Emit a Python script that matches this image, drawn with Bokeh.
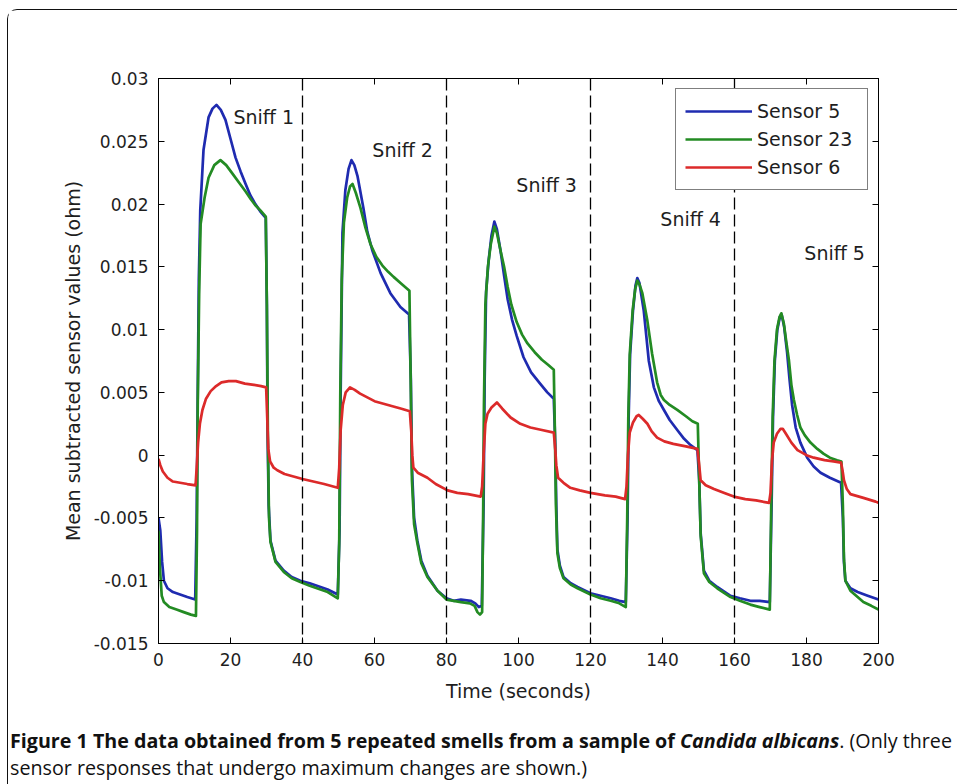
from bokeh.plotting import figure
from bokeh.models import (Range1d, FixedTicker, LinearAxis, Span, Legend, LegendItem,
                          CustomJSTickFormatter, Div, ColumnDataSource)
from bokeh.layouts import column
from bokeh.embed import file_html
from bokeh.resources import INLINE
from bokeh.core.properties import value

# ---------------- data ----------------
t_s5 = [0, 0.5, 1.0, 1.5, 2.5, 4, 6, 8, 10.2,
        10.6, 10.9, 11.2, 11.6, 12.5, 13.9, 15, 16.1, 17.3, 18.6, 20, 21.4, 22.8, 24.2, 25.5, 26.9, 28.3, 29.8,
        30.1, 30.3, 30.6, 31.1, 32.5, 34.8, 37, 39.4, 42, 44, 47, 49.8,
        50.3, 50.6, 51.1, 51.9, 52.8, 53.6, 54.4, 55.3, 56.9, 58, 59.4, 61.7, 64.4, 67.2, 69.6,
        70.1, 70.4, 71, 71.9, 73, 74.7, 77.5, 80, 82, 84, 86.7, 88, 89, 89.8,
        90.3, 90.6, 91, 91.7, 92.5, 93.3, 94, 95, 96, 97, 98.2, 99.5, 101.4, 103.5, 106, 108, 109.8,
        110.2, 110.5, 110.8, 111.5, 112.5, 114.5, 116.4, 120, 122.8, 125.6, 128, 129.8,
        130.3, 130.6, 131, 131.8, 132.5, 133, 133.6, 134.8, 135.5, 136.2, 137.6, 139, 140.4, 142, 144.1, 146, 147.8, 149.7,
        150.2, 150.6, 151.5, 153, 155.2, 158.9, 161.5, 164.4, 167, 169.8,
        170.3, 170.7, 171.2, 171.9, 172.6, 173.1, 173.8, 174.6, 175.3, 176, 177, 178.3, 180.2, 182, 183.9, 186.5, 189.6,
        190.1, 190.4, 190.8, 192.2, 194.2, 197, 200]
v_s5 = [-0.0050, -0.0060, -0.0085, -0.0100, -0.0106, -0.0109, -0.0111, -0.0113, -0.0115,
        -0.0050, 0.0050, 0.0140, 0.0195, 0.0243, 0.0269, 0.0276, 0.0279, 0.0275, 0.0267, 0.0252, 0.0237, 0.0226, 0.0216, 0.0207, 0.0200, 0.0194, 0.0189,
        0.0120, 0.0020, -0.0040, -0.0068, -0.0084, -0.0092, -0.0097, -0.0100, -0.0102, -0.0104, -0.0107, -0.0111,
        -0.0060, 0.0050, 0.0177, 0.0211, 0.0228, 0.0235, 0.0231, 0.0222, 0.0197, 0.0178, 0.0163, 0.0145, 0.0129, 0.0118, 0.0112,
        0.0060, -0.0010, -0.0050, -0.0068, -0.0084, -0.0096, -0.0108, -0.0114, -0.0116, -0.0115, -0.0116, -0.0118, -0.0121, -0.0120,
        -0.0040, 0.0060, 0.0130, 0.0155, 0.0175, 0.0186, 0.0180, 0.0163, 0.0143, 0.0124, 0.0108, 0.0095, 0.0078, 0.0066, 0.0057, 0.0050, 0.0045,
        0.0010, -0.0040, -0.0075, -0.0088, -0.0097, -0.0102, -0.0105, -0.0110, -0.0112, -0.0114, -0.0116, -0.0117,
        -0.0050, 0.0030, 0.0080, 0.0115, 0.0135, 0.0141, 0.0137, 0.0115, 0.0095, 0.0075, 0.0054, 0.0043, 0.0036, 0.0028, 0.0020, 0.0013, 0.0008, 0.0004,
        -0.0020, -0.0062, -0.0092, -0.0100, -0.0105, -0.0112, -0.0114, -0.0116, -0.0116, -0.0117,
        -0.0040, 0.0030, 0.0075, 0.0100, 0.0110, 0.0112, 0.0102, 0.0082, 0.0060, 0.0040, 0.0022, 0.0010, -0.0002, -0.0009, -0.0014, -0.0018, -0.0022,
        -0.0050, -0.0085, -0.0100, -0.0106, -0.0109, -0.0112, -0.0115]

t_s23 = [0, 0.4, 0.9, 1.5, 3, 5, 7, 9, 10.4,
         10.7, 10.9, 11.3, 11.7, 12.8, 13.9, 15.5, 17.2, 18.8, 20.6, 22.4, 24.2, 25.6, 26.9, 28.3, 29.8,
         30.1, 30.4, 30.7, 31.1, 32.5, 34.8, 37, 39.4, 42, 44, 47, 49.8,
         50.2, 50.5, 50.9, 51.5, 52.4, 53.2, 53.9, 54.8, 56.1, 57.5, 58.9, 60.5, 62.2, 63.8, 65.3, 67.3, 69.7,
         70.1, 70.4, 71, 71.9, 73, 74.7, 77.5, 80, 82, 84, 86.5, 87.8, 88.6, 89.3, 89.9,
         90.2, 90.4, 90.8, 91.5, 92.3, 93.3, 94, 95, 96, 97, 98, 99.5, 101, 102.5, 104.5, 106.5, 108.2, 109.8,
         110.1, 110.4, 110.8, 111.5, 112.5, 114.5, 116.4, 120, 122.8, 125.6, 128, 129.8,
         130.2, 130.5, 130.9, 131.7, 132.4, 133, 133.6, 134.4, 135.8, 137.1, 138.5, 139.5, 140.4, 142, 144.1, 146.5, 148.3, 149.8,
         150.2, 150.6, 151.5, 153, 155.2, 158.9, 161.5, 164.4, 167, 169.8,
         170.2, 170.6, 171.1, 171.8, 172.5, 173, 173.7, 174.4, 175.1, 175.8, 176.5, 177.4, 178.3, 179.5, 181.1, 183, 184.8, 186.5, 188.5, 189.7,
         190.1, 190.4, 190.8, 192.2, 194.2, 195.8, 198, 200]
v_s23 = [-0.0060, -0.0090, -0.0112, -0.0117, -0.0121, -0.0123, -0.0125, -0.0127, -0.0128,
         -0.0060, 0.0040, 0.0130, 0.0184, 0.0205, 0.0221, 0.0231, 0.0235, 0.0231, 0.0224, 0.0217, 0.0210, 0.0204, 0.0199, 0.0195, 0.0190,
         0.0120, 0.0010, -0.0050, -0.0069, -0.0085, -0.0093, -0.0098, -0.0101, -0.0104, -0.0106, -0.0109, -0.0114,
         -0.0070, 0.0050, 0.0140, 0.0185, 0.0205, 0.0214, 0.0216, 0.0209, 0.0197, 0.0181, 0.0168, 0.0158, 0.0151, 0.0146, 0.0142, 0.0137, 0.0131,
         0.0050, -0.0020, -0.0055, -0.0070, -0.0086, -0.0097, -0.0108, -0.0115, -0.0116, -0.0117, -0.0118, -0.0120, -0.0125, -0.0127, -0.0125,
         -0.0040, 0.0040, 0.0120, 0.0150, 0.0168, 0.0182, 0.0177, 0.0163, 0.0150, 0.0134, 0.0120, 0.0106, 0.0096, 0.0089, 0.0082, 0.0076, 0.0072, 0.0068,
         0.0020, -0.0040, -0.0078, -0.0090, -0.0098, -0.0103, -0.0106, -0.0111, -0.0114, -0.0116, -0.0118, -0.0121,
         -0.0050, 0.0030, 0.0080, 0.0115, 0.0132, 0.0139, 0.0136, 0.0129, 0.0107, 0.0081, 0.0058, 0.0048, 0.0044, 0.0040, 0.0036, 0.0031, 0.0027, 0.0025,
         -0.0020, -0.0064, -0.0094, -0.0101, -0.0106, -0.0113, -0.0116, -0.0119, -0.0121, -0.0123,
         -0.0040, 0.0030, 0.0075, 0.0100, 0.0110, 0.0113, 0.0105, 0.0090, 0.0076, 0.0056, 0.0044, 0.0032, 0.0022, 0.0016, 0.0010, 0.0005, 0.0001, -0.0002, -0.0004, -0.0005,
         -0.0040, -0.0082, -0.0100, -0.0108, -0.0113, -0.0117, -0.0120, -0.0123]

t_s6 = [0, 0.5, 1.2, 2.5, 4, 6, 8, 10.3,
        10.6, 11, 11.5, 12.2, 13.2, 14.5, 16, 17.5, 19.5, 21.5, 24, 26.5, 28.5, 29.9,
        30.2, 30.5, 31, 32, 33, 35, 37.5, 40, 43, 46, 49.8,
        50.2, 50.6, 51.2, 52, 53.2, 54.5, 56, 58, 60, 62.5, 65, 67.5, 69.8,
        70.2, 70.5, 70.8, 72, 74.7, 77, 80.3, 83, 86, 89.5,
        89.9, 90.3, 90.8, 91.4, 92.5, 94, 95.5, 97.8, 100.5, 103.3, 106.5, 109.8,
        110.2, 110.5, 111, 112.5, 114.4, 117, 120, 124, 127, 129.6,
        130, 130.4, 130.9, 131.8, 132.8, 133.4, 134.5, 135.8, 137, 138.5, 140.5, 143, 146.5, 149.7,
        150.2, 150.6, 152, 154.3, 157, 159.8, 163, 166, 169.6,
        170, 170.4, 170.9, 171.8, 172.8, 173.4, 174.5, 175.8, 177.5, 180, 182, 185, 187.5, 189.6,
        190, 190.4, 191.2, 192.2, 195.8, 199.2, 200]
v_s6 = [-0.0003, -0.0008, -0.0013, -0.0018, -0.0021, -0.0022, -0.0023, -0.0024,
        -0.0010, 0.0010, 0.0025, 0.0036, 0.0045, 0.0051, 0.0055, 0.0058, 0.0059, 0.0059, 0.0057, 0.0056, 0.0055, 0.0054,
        0.0030, 0.0005, -0.0005, -0.0010, -0.0012, -0.0015, -0.0017, -0.0019, -0.0021, -0.0023, -0.0026,
        -0.0010, 0.0020, 0.0040, 0.0050, 0.0054, 0.0052, 0.0049, 0.0046, 0.0043, 0.0041, 0.0039, 0.0037, 0.0035,
        0.0020, 0.0000, -0.0010, -0.0014, -0.0018, -0.0023, -0.0028, -0.0030, -0.0031, -0.0033,
        -0.0025, 0.0000, 0.0025, 0.0033, 0.0038, 0.0042, 0.0037, 0.0030, 0.0025, 0.0022, 0.0020, 0.0018,
        0.0005, -0.0008, -0.0018, -0.0022, -0.0026, -0.0028, -0.0030, -0.0032, -0.0033, -0.0035,
        -0.0025, 0.0000, 0.0018, 0.0026, 0.0031, 0.0032, 0.0029, 0.0025, 0.0019, 0.0014, 0.0011, 0.0009, 0.0007, 0.0005,
        -0.0008, -0.0020, -0.0024, -0.0027, -0.0030, -0.0033, -0.0035, -0.0036, -0.0038,
        -0.0030, -0.0005, 0.0010, 0.0017, 0.0021, 0.0021, 0.0016, 0.0010, 0.0004, 0.0000, -0.0002, -0.0004, -0.0005, -0.0006,
        -0.0012, -0.0020, -0.0027, -0.0031, -0.0034, -0.0037, -0.0038]

series_names = ["Sensor 5", "Sensor 23", "Sensor 6"]
sniff_boundaries = [40, 80, 120, 160]
sniff_labels = ["Sniff 1", "Sniff 2", "Sniff 3", "Sniff 4", "Sniff 5"]
sniff_x = [20.8, 59.4, 99.4, 139.4, 179.4]
sniff_y = [0.0269, 0.0243, 0.0215, 0.0188, 0.0161]

x_ticks = [0, 20, 40, 60, 80, 100, 120, 140, 160, 180, 200]
x_tick_labels = ["0", "20", "40", "60", "80", "100", "120", "140", "160", "180", "200"]
y_ticks = [-0.015, -0.01, -0.005, 0.0, 0.005, 0.01, 0.015, 0.02, 0.025, 0.03]
y_tick_labels = ["-0.015", "-0.01", "-0.005", "0", "0.005", "0.01", "0.015", "0.02", "0.025", "0.03"]

x_title = "Time (seconds)"
y_title = "Mean subtracted sensor values (ohm)"

# ---------------- styling ----------------
FONT = "DejaVu Sans"
TXT = "#1e1e1e"
colors = ["#1f2bb0", "#238b23", "#dc2a2a"]
LW = 2.7

p = figure(width=949, height=697, x_range=Range1d(0, 200), y_range=Range1d(-0.015, 0.03),
           output_backend="svg", toolbar_location=None,
           min_border_left=150, min_border_right=79, min_border_top=68, min_border_bottom=64,
           background_fill_color="white", border_fill_color="white")
p.xgrid.visible = False
p.ygrid.visible = False
p.outline_line_color = "black"
p.outline_line_width = 1

fmt_code = """
let best = 0; let bd = 1e9;
for (let i = 0; i < tv.length; i++) { const d = Math.abs(tv[i] - tick); if (d < bd) { bd = d; best = i; } }
return lb[best];
"""
xfmt = CustomJSTickFormatter(args=dict(tv=x_ticks, lb=x_tick_labels), code=fmt_code)
yfmt = CustomJSTickFormatter(args=dict(tv=y_ticks, lb=y_tick_labels), code=fmt_code)


def style_axis(ax, ticks, show_labels):
    ax.ticker = FixedTicker(ticks=ticks)
    ax.minor_tick_line_color = None
    ax.major_tick_in = 6
    ax.major_tick_out = 0
    ax.major_tick_line_color = "black"
    ax.axis_line_color = "black"
    ax.major_label_text_font = FONT
    if show_labels:
        ax.major_label_text_font_size = "17px"
        ax.major_label_text_color = TXT
    else:
        ax.major_label_text_color = None
        ax.major_label_standoff = 0


style_axis(p.xaxis[0], x_ticks, True)
p.xaxis[0].formatter = xfmt
p.xaxis[0].major_label_standoff = 9
p.xaxis[0].axis_label = x_title
p.xaxis[0].axis_label_standoff = 11
style_axis(p.yaxis[0], y_ticks, True)
p.yaxis[0].formatter = yfmt
p.yaxis[0].major_label_standoff = 10
p.yaxis[0].axis_label = y_title
p.yaxis[0].axis_label_standoff = 7
for ax in (p.xaxis[0], p.yaxis[0]):
    ax.axis_label_text_font = FONT
    ax.axis_label_text_font_size = "19px"
    ax.axis_label_text_font_style = "normal"
    ax.axis_label_text_color = TXT

top_ax = LinearAxis()
style_axis(top_ax, x_ticks, False)
right_ax = LinearAxis()
style_axis(right_ax, y_ticks, False)
p.add_layout(top_ax, "above")
p.add_layout(right_ax, "right")

for b in sniff_boundaries:
    p.add_layout(Span(location=b, dimension="height", line_color="black",
                      line_width=1.3, line_dash="12 5"))

renderers = []
for ts, vs, c in zip([t_s5, t_s23, t_s6], [v_s5, v_s23, v_s6], colors):
    r = p.line(ts, vs, line_color=c, line_width=LW, line_join="round")
    renderers.append(r)

txt_src = ColumnDataSource(dict(x=sniff_x, y=sniff_y, text=sniff_labels))
p.text("x", "y", text="text", source=txt_src, text_font=value(FONT), text_font_size="19px",
       text_color=TXT, text_align="left", text_baseline="middle")

legend = Legend(items=[LegendItem(label=n, renderers=[r]) for n, r in zip(series_names, renderers)],
                location="top_right", margin=10, padding=9, spacing=2,
                glyph_width=67, glyph_height=26, label_height=26, label_width=101, label_standoff=5,
                label_text_font=FONT, label_text_font_size="19px", label_text_color=TXT,
                border_line_color="black", border_line_width=1, background_fill_color="white",
                background_fill_alpha=1.0)
p.add_layout(legend)

caption_html = (
    '<div style="padding-top:20px; font-family:\'Open Sans\'; font-size:19.7px; '
    'line-height:27px; color:#111; white-space:nowrap;">'
    '<b>Figure 1 The data obtained from 5 repeated smells from a sample of <i>Candida albicans</i></b>'
    '. (Only three<br>sensor responses that undergo maximum changes are shown.)</div>'
)
cap = Div(text=caption_html, width=946, height=77, margin=(0, 0, 0, 2))

layout = column(p, cap, spacing=0,
                styles={"border-top": "1px solid #111", "border-left": "1px solid #111",
                        "border-top-left-radius": "10px", "margin-top": "9px", "margin-left": "7px"})

open("out.html", "w").write(file_html(layout, INLINE))
